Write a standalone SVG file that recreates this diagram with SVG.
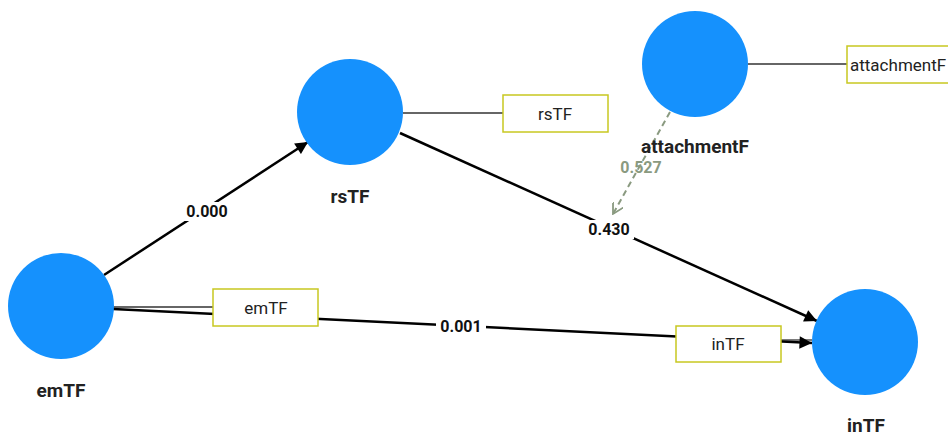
<svg xmlns="http://www.w3.org/2000/svg" width="948" height="433" viewBox="0 0 948 433">
<defs>
<style>
.lv{fill:#1591fd}
.nl{font-family:Roboto,"Liberation Sans",sans-serif;font-weight:bold;font-size:19px;fill:#222;text-anchor:middle}
.ind{fill:#fff;stroke:#c8c820;stroke-width:1.5}
.it{font-family:Roboto,"Liberation Sans",sans-serif;font-size:17px;fill:#222;text-anchor:middle}
.its{font-family:Roboto,"Liberation Sans",sans-serif;font-size:17px;fill:#222;text-anchor:start}
.il{stroke:#333;stroke-width:1.3;fill:none}
.p{stroke:#000;stroke-width:2.5;fill:none;marker-end:url(#ah)}
.pl{font-family:Roboto,"Liberation Sans",sans-serif;font-weight:bold;font-size:16px;fill:#111;text-anchor:middle}
.bg{fill:#fff}
</style>
<marker id="ah" viewBox="0 0 10 10" refX="10" refY="5" markerWidth="6" markerHeight="5" orient="auto" markerUnits="strokeWidth">
<path d="M0,0 L10,5 L0,10 Z" fill="#000"/>
</marker>
<marker id="ahm" viewBox="0 0 10 10" refX="9" refY="5" markerWidth="6" markerHeight="6" orient="auto" markerUnits="strokeWidth">
<path d="M0,0 L9,5 L0,10" fill="none" stroke="#8a9a80" stroke-width="1.5"/>
</marker>
</defs>
<g id="connectors">
<line class="il" x1="113" y1="307" x2="213" y2="307"/>
<line class="il" x1="403" y1="113" x2="503" y2="113"/>
<line class="il" x1="748" y1="64" x2="847" y2="64"/>
<line class="il" x1="781" y1="340" x2="812" y2="340"/>
<line class="p" x1="104" y1="275" x2="308" y2="142"/>
<line class="p" x1="400" y1="133" x2="817" y2="321"/>
<line class="p" x1="113" y1="309" x2="812" y2="343"/>
<line x1="670" y1="112" x2="613" y2="214" stroke="#8a9a80" stroke-width="2" stroke-dasharray="6,4" marker-end="url(#ahm)"/>
<rect class="bg" x="182" y="202" width="50" height="19"/>
<text class="pl" x="207" y="217">0.000</text>
<rect class="bg" x="584" y="220" width="50" height="19"/>
<text class="pl" x="609" y="235">0.430</text>
<rect class="bg" x="436" y="316" width="50" height="19"/>
<text class="pl" x="461" y="332">0.001</text>
<text x="641" y="173" font-family="Roboto,'Liberation Sans',sans-serif" font-weight="bold" font-size="16" fill="#8a9a80" text-anchor="middle">0.527</text>
</g>
<g id="emTF">
<circle class="lv" cx="61" cy="306" r="53"/>
<text class="nl" x="61" y="397">emTF</text>
</g>
<g id="emTF-ind">
<rect class="ind" x="213" y="289" width="105" height="37"/>
<text class="it" x="266" y="314">emTF</text>
</g>
<g id="rsTF">
<circle class="lv" cx="350" cy="112" r="53"/>
<text class="nl" x="350" y="203">rsTF</text>
</g>
<g id="rsTF-ind">
<rect class="ind" x="503" y="95" width="105" height="37"/>
<text class="it" x="555" y="120">rsTF</text>
</g>
<g id="attachmentF">
<circle class="lv" cx="695" cy="64" r="53"/>
<text class="nl" x="695" y="153">attachmentF</text>
</g>
<g id="attachmentF-ind">
<rect class="ind" x="847" y="46" width="110" height="37"/>
<text class="its" x="850" y="71">attachmentF</text>
</g>
<g id="inTF">
<circle class="lv" cx="865" cy="342" r="53"/>
<text class="nl" x="866" y="432">inTF</text>
</g>
<g id="inTF-ind">
<rect class="ind" x="676" y="326" width="105" height="36"/>
<text class="it" x="728" y="350">inTF</text>
</g>
</svg>
